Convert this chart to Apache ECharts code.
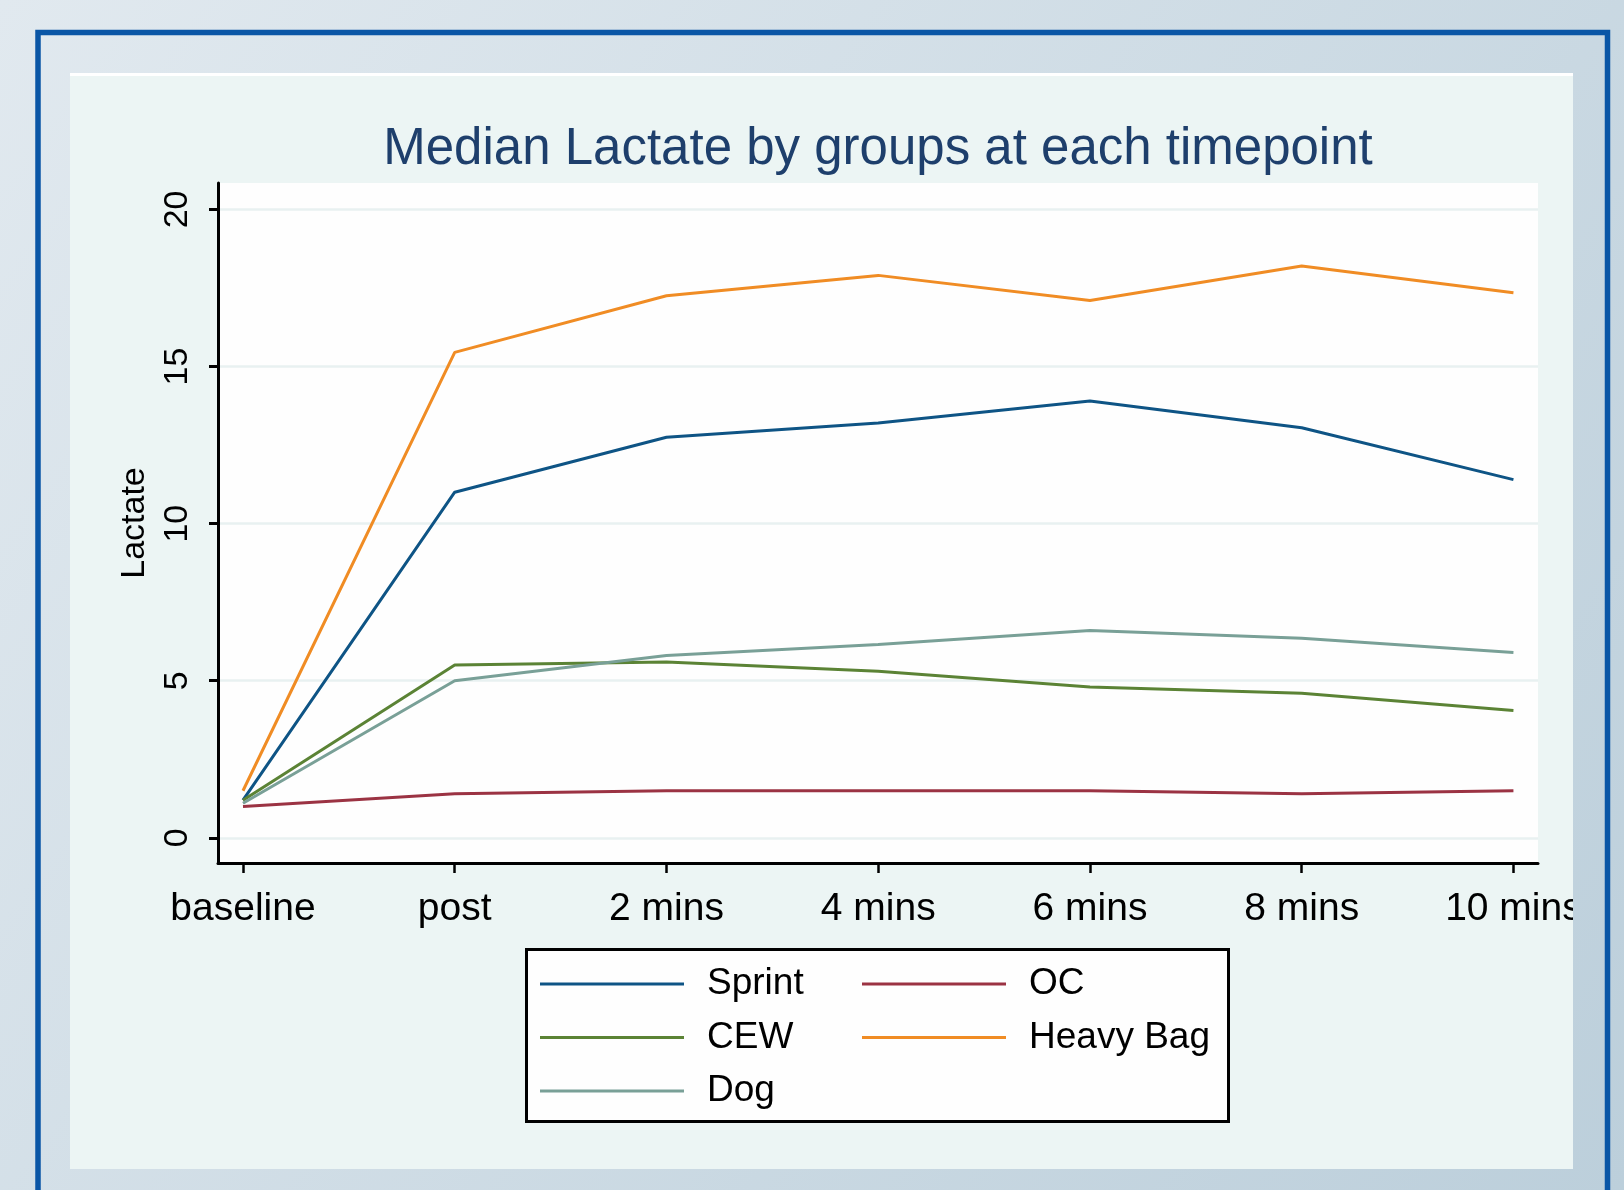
<!DOCTYPE html>
<html>
<head>
<meta charset="utf-8">
<script src="https://cdn.jsdelivr.net/npm/echarts@6/dist/echarts.min.js"></script>
<style>
html,body{margin:0;padding:0;background:#d5e1e8;}
#c{width:1624px;height:1190px;}
</style>
</head>
<body>
<div id="c"></div>
<script>
// ---- data ----
const timeLabels = ['baseline', 'post', '2 mins', '4 mins', '6 mins', '8 mins', '10 mins'];
const timeIndex = [0, 1, 2, 3, 4, 5, 6];
const sprint   = [1.2, 11.0, 12.75, 13.2, 13.9, 13.05, 11.4];
const oc       = [1.0, 1.4, 1.5, 1.5, 1.5, 1.4, 1.5];
const cew      = [1.2, 5.5, 5.6, 5.3, 4.8, 4.6, 4.05];
const heavyBag = [1.5, 15.45, 17.25, 17.9, 17.1, 18.2, 17.35];
const dog      = [1.1, 5.0, 5.8, 6.15, 6.6, 6.35, 5.9];
const yTicks   = [0, 5, 10, 15, 20];

const FONT = '"Liberation Sans", Arial, sans-serif';
const bgGrad = {
  type: 'linear', x: 0, y: 0, x2: 1624, y2: 1190, global: true,
  colorStops: [{offset: 0, color: '#e1e9ef'}, {offset: 1, color: '#bccfdb'}]
};

function pairs(vals) { return timeIndex.map((x, i) => [x, vals[i]]); }
function mk(name, vals, color) {
  return {
    name: name, type: 'line', data: pairs(vals), symbol: 'none',
    lineStyle: {color: color, width: 3}, itemStyle: {color: color}
  };
}

const chart = echarts.init(document.getElementById('c'));
const legendText = {fontSize: 37, lineHeight: 40, color: '#000', fontFamily: FONT, padding: [0, 0, 0, 18]};

chart.setOption({
  animation: false,
  textStyle: {fontFamily: FONT},
  title: {
    text: 'Median Lactate by groups at each timepoint',
    left: 878, top: 124, padding: 0,
    textAlign: 'center', textVerticalAlign: 'top',
    textStyle: {fontSize: 51, fontWeight: 'normal', color: '#1e3f6c', fontFamily: FONT}
  },
  graphic: [
    {type: 'rect', z: -10, shape: {x: 0, y: 0, width: 1624, height: 1190}, style: {fill: bgGrad}},
    {type: 'rect', z: -9, shape: {x: 70, y: 73, width: 1503, height: 3}, style: {fill: '#ffffff'}},
    {type: 'rect', z: -9, shape: {x: 70, y: 76, width: 1503, height: 1093}, style: {fill: '#ecf5f4'}},
    {type: 'rect', z: 3, shape: {x: 526.5, y: 949.5, width: 702, height: 172}, style: {fill: '#fefefe', stroke: '#000', lineWidth: 3}},
    {type: 'rect', z: 50, shape: {x: 1573, y: 73, width: 32, height: 1117}, style: {fill: bgGrad}},
    {type: 'rect', z: 51, shape: {x: 38, y: 32.5, width: 1569.5, height: 1250}, style: {fill: null, stroke: '#0a56a6', lineWidth: 5.5}}
  ],
  grid: {
    left: 218, top: 183, width: 1320, height: 680,
    show: true, backgroundColor: '#fefefe', borderWidth: 0
  },
  xAxis: {
    type: 'value', min: -0.118, max: 6.116,
    axisLine: {show: true, onZero: false, lineStyle: {color: '#000', width: 3}},
    axisTick: {show: true, customValues: timeIndex, length: 10, lineStyle: {color: '#000', width: 2.5}},
    axisLabel: {
      customValues: timeIndex, formatter: v => timeLabels[Math.round(v)],
      fontSize: 39, margin: 27, color: '#000', fontFamily: FONT
    },
    splitLine: {show: false}
  },
  yAxis: {
    type: 'value', min: -0.8, max: 20.84,
    name: 'Lactate', nameLocation: 'middle', nameRotate: 90, nameGap: 66,
    nameTextStyle: {fontSize: 34, color: '#000', fontFamily: FONT},
    axisLine: {show: true, onZero: false, lineStyle: {color: '#000', width: 3}},
    axisTick: {show: true, customValues: yTicks, length: 9, lineStyle: {color: '#000', width: 3}},
    axisLabel: {customValues: yTicks, rotate: 90, fontSize: 34, margin: 23, color: '#000', fontFamily: FONT},
    splitLine: {show: true, lineStyle: {color: '#e8f1f1', width: 2.5}}
  },
  legend: [
    {data: ['Sprint', 'CEW', 'Dog'], orient: 'vertical', left: 540, top: 964, padding: 0,
     icon: 'rect', itemWidth: 144, itemHeight: 3, itemGap: 13.5, textStyle: legendText, selectedMode: false},
    {data: ['OC', 'Heavy Bag'], orient: 'vertical', left: 862, top: 964, padding: 0,
     icon: 'rect', itemWidth: 144, itemHeight: 3, itemGap: 13.5, textStyle: legendText, selectedMode: false}
  ],
  series: [
    mk('Sprint', sprint, '#0e5485'),
    mk('OC', oc, '#9b3343'),
    mk('CEW', cew, '#5b8335'),
    mk('Heavy Bag', heavyBag, '#f08c24'),
    mk('Dog', dog, '#79a097')
  ]
});
</script>
</body>
</html>
